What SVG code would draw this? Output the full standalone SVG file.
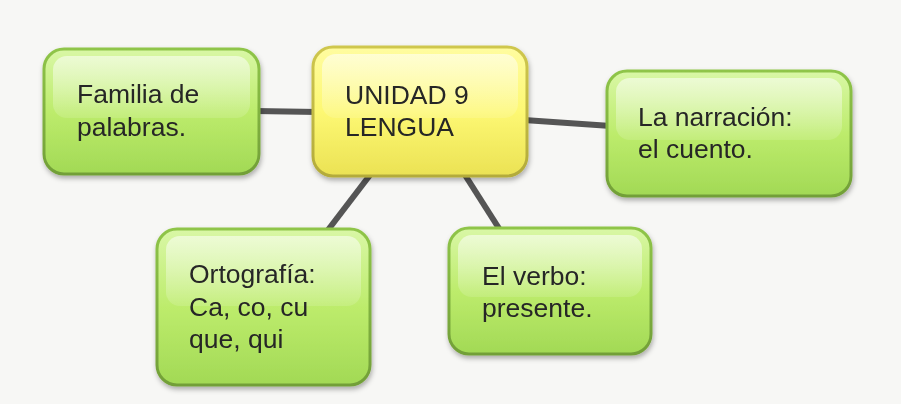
<svg xmlns="http://www.w3.org/2000/svg" width="901" height="404" viewBox="0 0 901 404">
<defs>
<linearGradient id="gG" x1="0" y1="0" x2="0" y2="1">
<stop offset="0" stop-color="#d9f7a6"/>
<stop offset="0.5" stop-color="#bdec6c"/>
<stop offset="1" stop-color="#a2d955"/>
</linearGradient>
<linearGradient id="gY" x1="0" y1="0" x2="0" y2="1">
<stop offset="0" stop-color="#fffca0"/>
<stop offset="0.5" stop-color="#fdf873"/>
<stop offset="1" stop-color="#ebe254"/>
</linearGradient>
<linearGradient id="sG" x1="0" y1="0" x2="0" y2="1">
<stop offset="0" stop-color="#8fc548"/>
<stop offset="1" stop-color="#729f38"/>
</linearGradient>
<linearGradient id="sY" x1="0" y1="0" x2="0" y2="1">
<stop offset="0" stop-color="#cfc74e"/>
<stop offset="1" stop-color="#b3ab3a"/>
</linearGradient>
<linearGradient id="hl" x1="0" y1="0" x2="0" y2="1">
<stop offset="0" stop-color="#ffffff" stop-opacity="0.55"/>
<stop offset="1" stop-color="#ffffff" stop-opacity="0.12"/>
</linearGradient>
<filter id="sh" x="-10%" y="-10%" width="120%" height="130%">
<feDropShadow dx="1" dy="3" stdDeviation="2.5" flood-color="#000" flood-opacity="0.3"/>
</filter>
</defs>
<style>
.g{fill:url(#gG);stroke:url(#sG);stroke-width:3}
.y{fill:url(#gY);stroke:url(#sY);stroke-width:3}
.h{fill:url(#hl)}
.t{font-family:"Liberation Sans",Arial,sans-serif;font-size:26.5px;fill:#262626}
.c{stroke:#555;stroke-width:6;fill:none}
</style>
<rect width="901" height="404" fill="#f7f7f5"/>
<g id="connectors">
<line class="c" x1="255" y1="111" x2="318" y2="112"/>
<line class="c" x1="524" y1="120" x2="611" y2="126"/>
<line class="c" x1="370" y1="175" x2="328" y2="230"/>
<line class="c" x1="465" y1="175" x2="500" y2="230"/>
</g>
<g id="n-familia" filter="url(#sh)">
<rect class="g" x="44" y="49" width="215" height="125" rx="20"/>
<rect class="h" x="53" y="56" width="197" height="62" rx="14"/>
<text class="t" x="77" y="103">Familia de</text>
<text class="t" x="77" y="136">palabras.</text>
</g>
<g id="n-unidad" filter="url(#sh)">
<rect class="y" x="313" y="47" width="214" height="129" rx="20"/>
<rect class="h" x="322" y="54" width="196" height="64" rx="14"/>
<text class="t" x="345" y="104">UNIDAD 9</text>
<text class="t" x="345" y="136">LENGUA</text>
</g>
<g id="n-narracion" filter="url(#sh)">
<rect class="g" x="607" y="71" width="244" height="125" rx="20"/>
<rect class="h" x="616" y="78" width="226" height="62" rx="14"/>
<text class="t" x="638" y="126">La narración:</text>
<text class="t" x="638" y="158">el cuento.</text>
</g>
<g id="n-ortografia" filter="url(#sh)">
<rect class="g" x="157" y="229" width="213" height="156" rx="20"/>
<rect class="h" x="166" y="236" width="195" height="70" rx="14"/>
<text class="t" x="189" y="283">Ortografía:</text>
<text class="t" x="189" y="316">Ca, co, cu</text>
<text class="t" x="189" y="348">que, qui</text>
</g>
<g id="n-verbo" filter="url(#sh)">
<rect class="g" x="449" y="228" width="202" height="126" rx="20"/>
<rect class="h" x="458" y="235" width="184" height="62" rx="14"/>
<text class="t" x="482" y="285">El verbo:</text>
<text class="t" x="482" y="317">presente.</text>
</g>
</svg>
